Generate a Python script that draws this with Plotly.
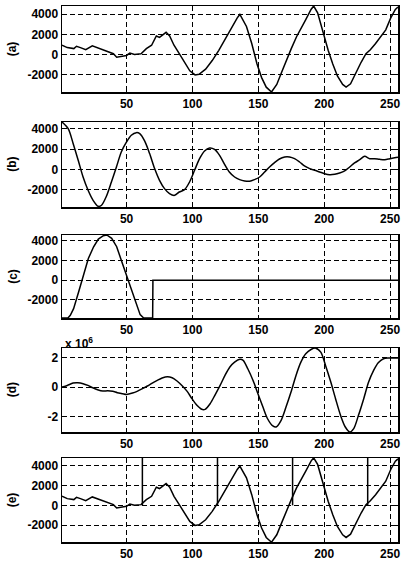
import plotly.graph_objects as go

# ---------------- data ----------------
x_tick_vals = [50, 100, 150, 200, 250]
y_tick_vals = [-2000, 0, 2000, 4000]
y_tick_vals_d = [-2, 0, 2]
panel_labels = ["(a)", "(b)", "(c)", "(d)", "(e)"]

a_x = [1, 5, 10, 12, 15, 19, 24, 26, 30, 35, 40, 42.5, 46, 50, 52.5, 56, 61, 65, 69, 72.6,
       75, 77.6, 80, 82.7, 86, 90, 94, 98, 102, 105, 110, 115, 120, 125, 130, 134, 136, 137.5, 141, 145,
       149, 152.5, 156, 160, 164, 167.6, 171, 175, 179, 182.7, 186, 190, 192, 195, 199, 203, 206.5, 210, 214, 216.6,
       220, 224, 228, 231.7, 235, 239, 243, 246.7, 250.5, 254, 256]
a_y = [915, 680, 580, 810, 680, 470, 850, 750, 580, 340, 70, -270, -200, -100, 140, 0, 70, 580, 915, 1830,
       1700, 1930, 2200, 1830, 915, 70, -780, -1630, -2030, -1970, -1460, -610, 410, 1590, 2700, 3630, 3970, 3630, 2780, 1080,
       -950, -2300, -3250, -3730, -2980, -1800, -610, 580, 1760, 2610, 3460, 4470, 4810, 4140, 2270, 410, -950, -2140, -2980, -3250,
       -2920, -1800, -780, 70, 470, 1080, 1760, 2440, 3630, 4470, 4700]

b_x = [1, 5.7, 9.5, 13.3, 17, 20.8, 24.6, 28.4, 31, 34.7, 38.5, 42.3, 46, 50, 53.6, 57.4, 60, 63.7, 67.5, 71.3,
       75, 78.8, 82.6, 86.4, 90, 94, 97.8, 101.6, 105.4, 109.2, 113, 116.8, 120.6, 124.4, 128, 132, 135.8, 139.6, 143.4, 147,
       151, 154.8, 158.5, 162.3, 166, 170, 173.7, 177.5, 181.3, 185, 189, 192.7, 196.5, 200.3, 204, 208, 211.7, 215.5, 219.3, 223,
       227, 230.7, 234.5, 238.3, 242, 246, 249.7, 253.5, 256]
b_y = [4670, 4010, 2530, 890, -760, -2070, -3060, -3650, -3550, -2660, -1250, 230, 1710, 2700, 3360, 3620, 3520, 2800, 1550, 70,
       -1090, -1910, -2400, -2570, -2240, -2010, -1250, -100, 1050, 1810, 2110, 1970, 1380, 490, -260, -760, -1020, -1150, -1180, -1020,
       -760, -260, 230, 660, 1020, 1220, 1220, 1050, 720, 330, 70, -100, -260, -430, -530, -490, -360, -160, 230, 630,
       950, 1280, 1050, 1050, 990, 950, 1050, 1150, 1200]

c_x = [1, 3.5, 5.5, 7.3, 9.8, 13.6, 17.3, 21, 25, 28.6, 32.4, 35, 38.7, 42.5, 46, 50, 54, 58, 60.3, 63,
       68, 69.8, 70, 256]
c_y = [-3830, -3830, -3830, -3560, -2880, -1190, 510, 2200, 3390, 4170, 4510, 4580, 4240, 3390, 2030, 510, -1190, -2710, -3490, -3830,
       -3830, -3830, 0, 0]

d_x = [1, 5, 9.4, 13, 17, 20.7, 24.4, 28, 32, 35.7, 39.5, 43, 47, 50, 54.5, 58, 62, 65.8, 69.5, 73.3,
       77, 81, 84.6, 88.3, 92, 96, 99.6, 103.4, 107, 109.6, 113.4, 117, 121, 124.7, 128.4, 132, 136, 138.5, 142, 146,
       149.7, 153.5, 157, 161, 163.5, 167.3, 171, 174.8, 178.6, 182.3, 186, 190, 193.6, 197.4, 201, 205, 208.6, 212.4, 216, 219.4,
       222.4, 226, 230, 233.7, 237.5, 241, 245, 248.7, 256]
d_y = [0, 0.11, 0.27, 0.29, 0.23, 0.11, -0.05, -0.18, -0.27, -0.25, -0.29, -0.38, -0.45, -0.5, -0.41, -0.29, -0.11, 0.07, 0.27, 0.45,
       0.61, 0.7, 0.63, 0.41, 0.11, -0.29, -0.79, -1.24, -1.51, -1.51, -1.13, -0.56, 0.11, 0.79, 1.36, 1.69, 1.88, 1.81, 1.24, 0.45,
       -0.45, -1.36, -2.15, -2.64, -2.71, -2.26, -1.36, -0.34, 0.79, 1.69, 2.26, 2.55, 2.64, 2.37, 1.47, 0.34, -0.79, -1.92, -2.71, -3.05,
       -2.82, -1.92, -0.79, 0.34, 1.13, 1.65, 1.92, 1.97, 1.97]

# (e): same signal as (a) plus segment markers
e_x = list(a_x)
e_y = list(a_y)
e_cut_x = [62, 119, 176, 233]
e_cut_y = [0, 0, 0, 0]

# ---------------- layout parameters ----------------
W, H = 402, 564
ML, MR, MT, MB = 62, 2, 6, 22
x_range = [1, 256]
y_ranges = [[-3730, 4810], [-3720, 4670], [-3830, 4580], [-3.05, 2.65], [-3710, 4790]]
panel_px = [(6, 92), (122, 207), (235, 318), (348, 432), (458, 542)]
plot_h = H - MT - MB
plot_w = W - ML - MR


def ydom(top, bot):
    return [(H - MB - bot) / plot_h, (H - MB - top) / plot_h]


FONT = dict(family="Liberation Sans, Arial, sans-serif", size=12, color="black", weight="bold")

fig = go.Figure()

series = [(a_x, a_y, "linear"), (b_x, b_y, "spline"), (c_x, c_y, "linear"),
          (d_x, d_y, "spline"), (e_x, e_y, "linear")]

for i, (xs, ys, shape) in enumerate(series):
    n = i + 1
    sfx = "" if n == 1 else str(n)
    line = dict(color="black", width=1.5, shape=shape)
    if shape == "spline":
        line["smoothing"] = 0.8
    fig.add_trace(go.Scatter(x=xs, y=ys, mode="lines", line=line,
                             xaxis="x" + sfx, yaxis="y" + sfx, showlegend=False,
                             hoverinfo="skip"))

# vertical segment markers in (e), from curve up to (and beyond) top of the axis
vx, vy = [], []
for cx, cy in zip(e_cut_x, e_cut_y):
    vx += [cx, cx, None]
    vy += [cy, y_ranges[4][1] * 1.1, None]
fig.add_trace(go.Scatter(x=vx, y=vy, mode="lines", line=dict(color="black", width=1.5),
                         xaxis="x5", yaxis="y5", showlegend=False, hoverinfo="skip"))

layout = dict(
    width=W, height=H,
    margin=dict(l=ML, r=MR, t=MT, b=MB),
    paper_bgcolor="white", plot_bgcolor="white",
    font=FONT,
    showlegend=False,
)

for i in range(5):
    n = i + 1
    sfx = "" if n == 1 else str(n)
    top, bot = panel_px[i]
    layout["xaxis" + sfx] = dict(
        domain=[0, 1], anchor="y" + sfx, range=x_range,
        tickvals=x_tick_vals, ticktext=[str(v) for v in x_tick_vals],
        showgrid=True, gridcolor="black", gridwidth=1, griddash="5px,3px",
        showline=True, linecolor="black", linewidth=1.5, mirror="ticks",
        ticks="inside", ticklen=3, tickcolor="black", zeroline=False,
        tickfont=FONT, fixedrange=True,
    )
    yt = y_tick_vals_d if i == 3 else y_tick_vals
    layout["yaxis" + sfx] = dict(
        domain=ydom(top, bot), anchor="x" + sfx, range=y_ranges[i],
        tickvals=yt, ticktext=[str(v) for v in yt],
        showgrid=True, gridcolor="black", gridwidth=1, griddash="5px,3px",
        showline=True, linecolor="black", linewidth=1.5, mirror="ticks",
        ticks="inside", ticklen=3, tickcolor="black", zeroline=False,
        tickfont=FONT, fixedrange=True,
    )

fig.update_layout(**layout)

annotations = []
for i, lab in enumerate(panel_labels):
    top, bot = panel_px[i]
    d = ydom(top, bot)
    annotations.append(dict(text=lab, xref="paper", yref="paper",
                            x=(12 - ML) / plot_w, y=(d[0] + d[1]) / 2,
                            xanchor="center", yanchor="middle", textangle=-90,
                            showarrow=False, font=FONT))
annotations.append(dict(text="x 10<sup>6</sup>", xref="paper", yref="paper",
                        x=(63 - ML) / plot_w, y=(H - MB - 343) / plot_h,
                        xanchor="left", yanchor="middle", showarrow=False, font=FONT))
fig.update_layout(annotations=annotations)

fig.write_html("out.html",
               config={"displayModeBar": False, "staticPlot": True},
               post_script="document.body.style.margin='0';document.body.style.overflow='hidden';")
